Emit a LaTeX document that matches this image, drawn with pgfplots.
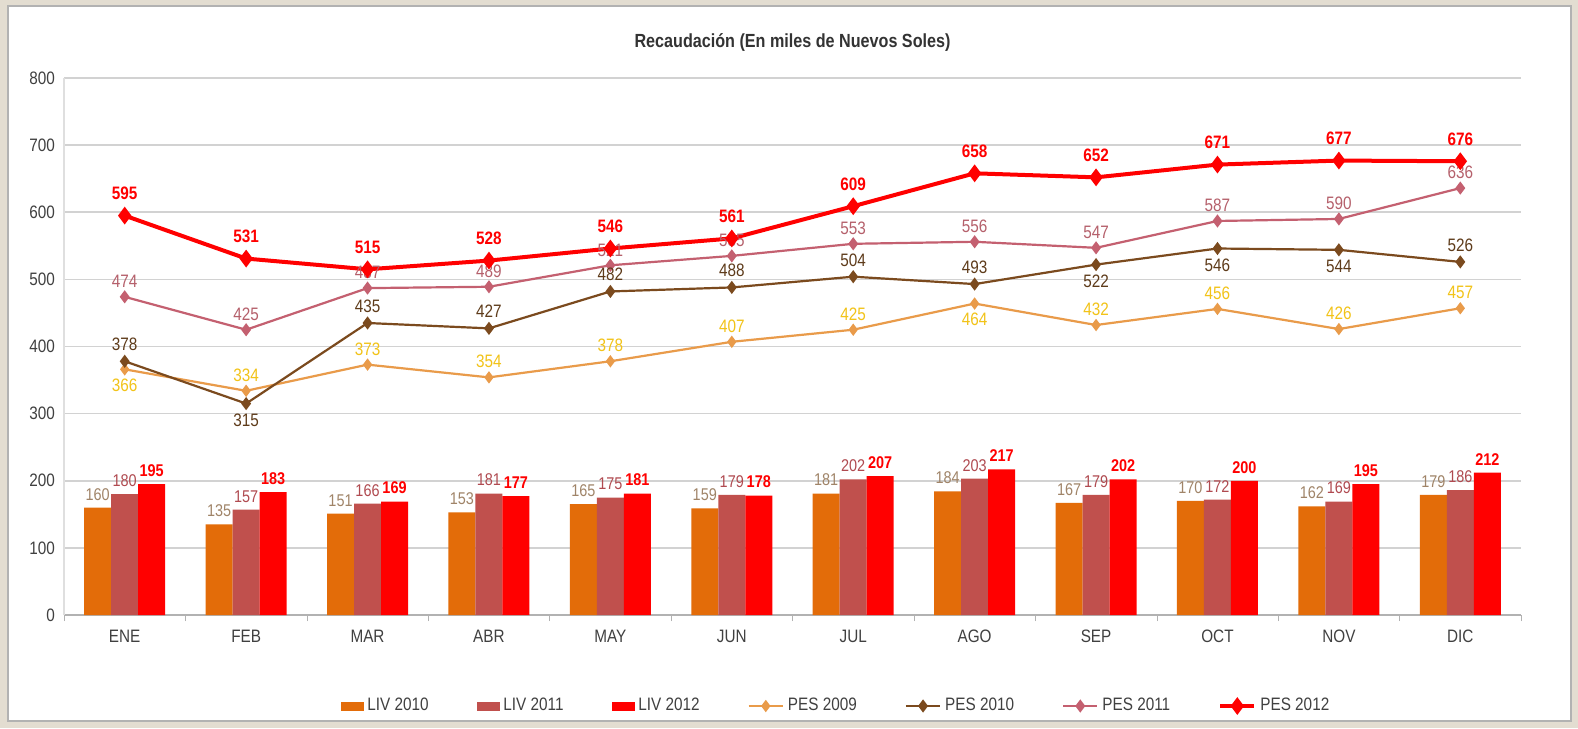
\documentclass[border=0pt]{standalone}
\usepackage{fontspec}
\setmainfont{Liberation Sans}[FakeStretch=0.85]
\usepackage{pgfplots}
\usepackage{pgfplotstable}
\pgfplotsset{compat=1.18}
\pgfkeys{/pgf/number format/assume math mode=true}
\definecolor{bg}{HTML}{E3DDD1}
\definecolor{liv10}{HTML}{E36C09}
\definecolor{liv11}{HTML}{C0504D}
\definecolor{liv12}{HTML}{FF0000}
\definecolor{pes09}{HTML}{E99B4A}
\definecolor{pes10}{HTML}{7B4A1E}
\definecolor{pes11}{HTML}{C46070}
\definecolor{pes12}{HTML}{FF0000}
\definecolor{lab10}{HTML}{A08468}
\definecolor{lab11}{HTML}{B04A50}
\definecolor{lab09}{HTML}{F2C318}
\definecolor{labp10}{HTML}{5E3B1A}
\definecolor{labp11}{HTML}{B5606B}
% p09u/p09d and p10u/p10d: same values, split by label position (above/below)
\pgfplotstableread{
x l10 l11 l12 p09 p10 p11 p12 p09u p09d p10u p10d
0 160 180 195 366 378 474 595 nan 366 378 nan
1 135 157 183 334 315 425 531 334 nan nan 315
2 151 166 169 373 435 487 515 373 nan 435 nan
3 153 181 177 354 427 489 528 354 nan 427 nan
4 165 175 181 378 482 521 546 378 nan 482 nan
5 159 179 178 407 488 535 561 407 nan 488 nan
6 181 202 207 425 504 553 609 425 nan 504 nan
7 184 203 217 464 493 556 658 nan 464 493 nan
8 167 179 202 432 522 547 652 432 nan nan 522
9 170 172 200 456 546 587 671 456 nan nan 546
10 162 169 195 426 544 590 677 426 nan nan 544
11 179 186 212 457 526 636 676 457 nan 526 nan
}\data
\begin{document}
\begin{tikzpicture}
\fill[bg] (0pt,0pt) rectangle (789pt,364pt);
\filldraw[fill=white,draw=gray!60,line width=0.6pt] (4pt,3.5pt) rectangle (785.5pt,361pt);
\begin{axis}[
  at={(32pt,56.5pt)}, anchor=south west,
  scale only axis, width=728.5pt, height=268.5pt,
  xmin=-0.5, xmax=11.5, ymin=0, ymax=800,
  xtick={0,...,11},
  xticklabels={ENE,FEB,MAR,ABR,MAY,JUN,JUL,AGO,SEP,OCT,NOV,DIC},
  minor xtick={-0.5,0.5,...,11.5},
  ytick={0,100,...,800},
  ymajorgrids, grid style={gray!35, line width=0.8pt},
  axis x line*=bottom, axis y line*=left,
  x axis line style={gray!60, line width=0.8pt},
  y axis line style={gray!25, line width=0.8pt},
  major tick length=0pt, minor tick length=3pt, tick align=outside,
  minor tick style={gray!60},
  ticklabel style={font=\fontsize{9}{10}\selectfont, text=black!75},
  xticklabel style={yshift=-4pt},
  yticklabel style={xshift=-1pt},
  clip=false,
  unbounded coords=discard,
  legend style={at={(0.5305,-0.1695)}, anchor=center, draw=none, fill=none,
    font=\fontsize{9}{10}\selectfont, text=black!75,
    /tikz/every even column/.append style={column sep=22pt},
    /tikz/every odd column/.append style={column sep=0pt}},
  legend columns=7,
  legend cell align=left,
]
\addplot[forget plot, ybar, bar width=13.5pt, bar shift=-13.5pt, fill=liv10, draw=none,
  nodes near coords, every node near coord/.append style={font=\fontsize{8.5}{9}\selectfont, text=lab10, inner xsep=0pt, inner ysep=3.5pt, xshift=-13.5pt}]
  table[x=x,y=l10]{\data};
\addplot[forget plot, ybar, bar width=13.5pt, bar shift=0pt, fill=liv11, draw=none,
  nodes near coords, every node near coord/.append style={font=\fontsize{8.5}{9}\selectfont, text=lab11, inner xsep=0pt, inner ysep=3.5pt}]
  table[x=x,y=l11]{\data};
\addplot[forget plot, ybar, bar width=13.5pt, bar shift=13.5pt, fill=liv12, draw=none,
  nodes near coords, every node near coord/.append style={font=\bfseries\fontsize{8.5}{9}\selectfont, text=liv12, inner xsep=0pt, inner ysep=3.5pt, xshift=13.5pt}]
  table[x=x,y=l12]{\data};
% lines
\addplot[forget plot, pes09, line width=1.1pt, mark=diamond*, mark size=2.2pt] table[x=x,y=p09]{\data};
\addplot[forget plot, pes10, line width=1.1pt, mark=diamond*, mark size=2.4pt] table[x=x,y=p10]{\data};
\addplot[forget plot, pes11, line width=1.1pt, mark=diamond*, mark size=2.4pt,
  nodes near coords, every node near coord/.append style={font=\fontsize{9}{10}\selectfont, text=labp11, anchor=south, inner xsep=1pt, inner ysep=4pt}]
  table[x=x,y=p11]{\data};
\addplot[forget plot, pes12, line width=2pt, mark=diamond*, mark size=2.8pt,
  nodes near coords, every node near coord/.append style={font=\bfseries\fontsize{9}{10}\selectfont, text=pes12, anchor=south, inner xsep=1pt, inner ysep=7pt}]
  table[x=x,y=p12]{\data};
% labels of PES 2009 / PES 2010
\addplot[forget plot, draw=none, mark=none, nodes near coords,
  every node near coord/.append style={font=\fontsize{9}{10}\selectfont, text=lab09, anchor=south, inner xsep=1pt, inner ysep=4.5pt}]
  table[x=x,y=p09u]{\data};
\addplot[forget plot, draw=none, mark=none, nodes near coords,
  every node near coord/.append style={font=\fontsize{9}{10}\selectfont, text=lab09, anchor=north, inner xsep=1pt, inner ysep=4.5pt}]
  table[x=x,y=p09d]{\data};
\addplot[forget plot, draw=none, mark=none, nodes near coords,
  every node near coord/.append style={font=\fontsize{9}{10}\selectfont, text=labp10, anchor=south, inner xsep=1pt, inner ysep=5pt}]
  table[x=x,y=p10u]{\data};
\addplot[forget plot, draw=none, mark=none, nodes near coords,
  every node near coord/.append style={font=\fontsize{9}{10}\selectfont, text=labp10, anchor=north, inner xsep=1pt, inner ysep=5pt}]
  table[x=x,y=p10d]{\data};
\addlegendimage{legend image code/.code={\fill[liv10] (0pt,-2pt) rectangle (11pt,2pt);}}
\addlegendentry{LIV 2010}
\addlegendimage{legend image code/.code={\fill[liv11] (0pt,-2pt) rectangle (11pt,2pt);}}
\addlegendentry{LIV 2011}
\addlegendimage{legend image code/.code={\fill[liv12] (0pt,-2pt) rectangle (11pt,2pt);}}
\addlegendentry{LIV 2012}
\addlegendimage{pes09, line width=1.1pt, mark=diamond*, mark size=2.2pt}
\addlegendentry{PES 2009}
\addlegendimage{pes10, line width=1.1pt, mark=diamond*, mark size=2.4pt}
\addlegendentry{PES 2010}
\addlegendimage{pes11, line width=1.1pt, mark=diamond*, mark size=2.4pt}
\addlegendentry{PES 2011}
\addlegendimage{pes12, line width=2pt, mark=diamond*, mark size=2.8pt}
\addlegendentry{PES 2012}
\node[font=\bfseries\fontsize{9.5}{11}\selectfont, text=black!80] at (rel axis cs:0.5,1) [yshift=18pt] {Recaudación (En miles de Nuevos Soles)};
\end{axis}
\end{tikzpicture}
\end{document}
